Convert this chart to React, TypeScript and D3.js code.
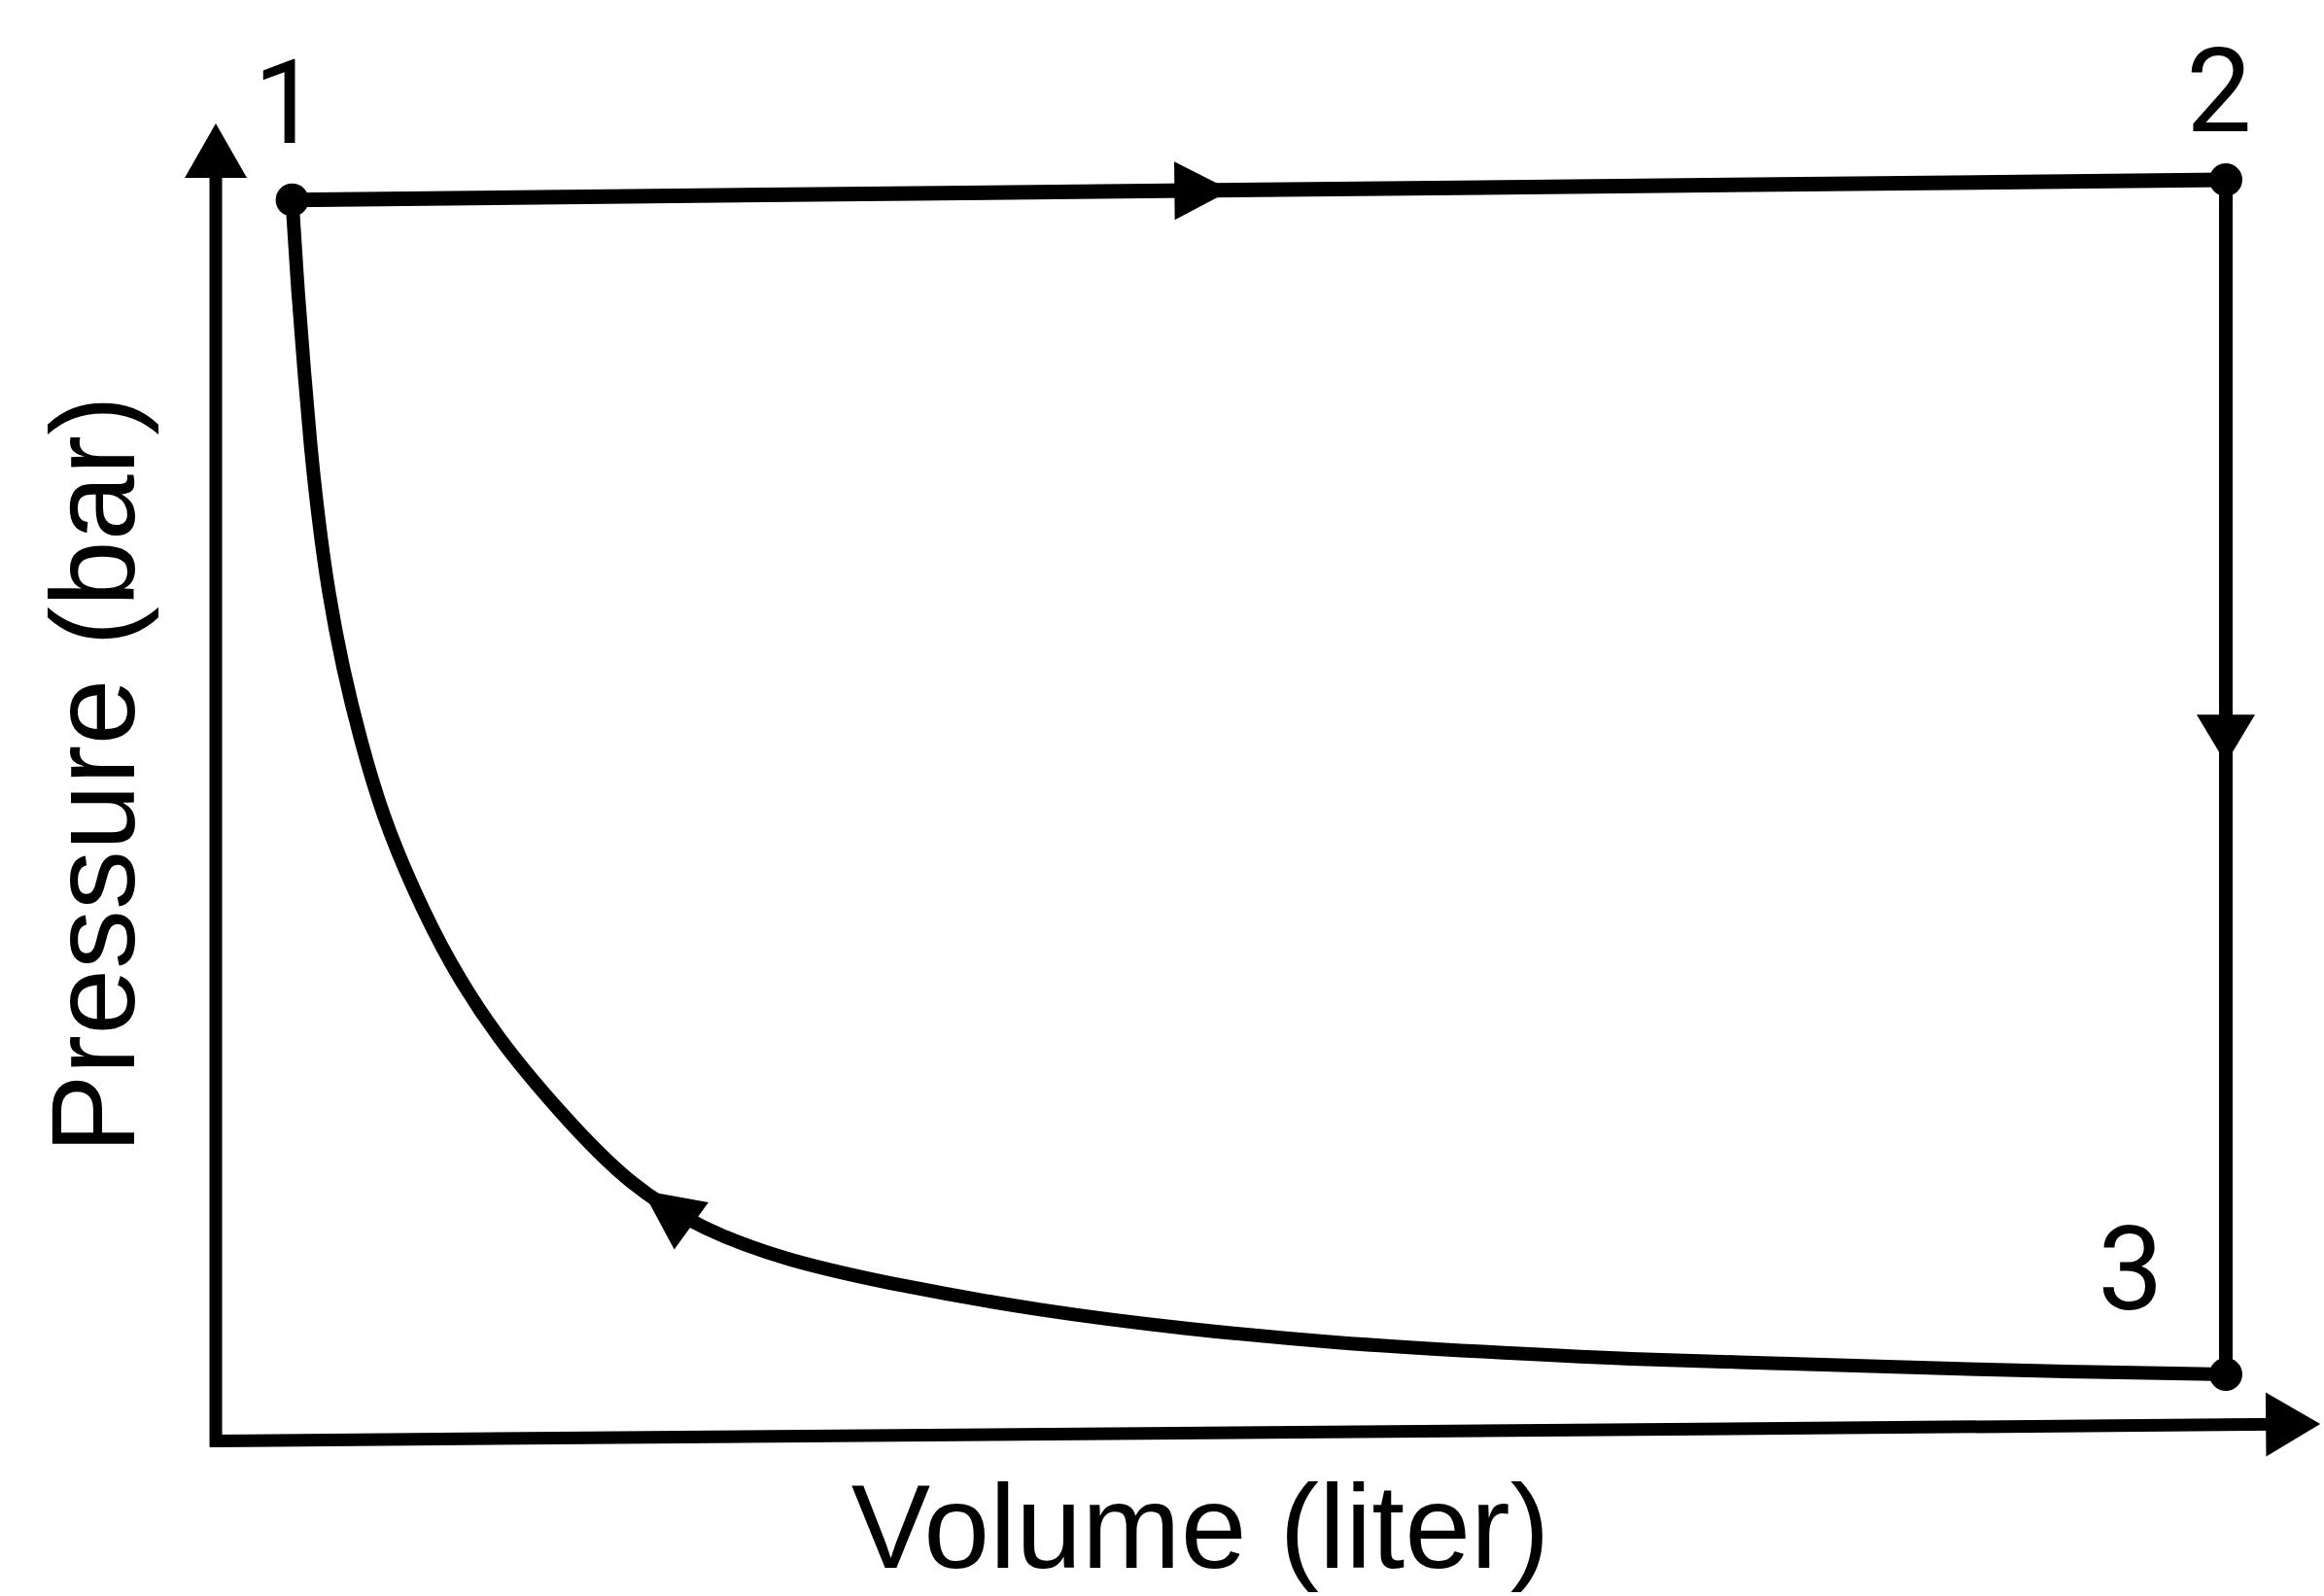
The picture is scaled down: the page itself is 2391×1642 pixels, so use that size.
import React, { useRef, useEffect } from 'react';
import * as d3 from 'd3';

const WIDTH = 2391;
const HEIGHT = 1642;

// cycle corner states (volume, pressure)
const stateLabels = ['1', '2', '3'];
const stateVolume = [0.38, 10.0, 10.0];
const statePressure = [9.84, 10.0, 0.48];

// isothermal branch between state 1 and state 3
const curveVolume = [0.38, 0.41, 0.44, 0.47, 0.51, 0.56, 0.63, 0.72, 0.83, 0.98, 1.16, 1.4, 1.71, 2.06, 2.43, 2.83, 3.42, 4.09, 4.83, 5.57, 6.3, 7.04, 7.78, 8.52, 9.25, 10.0];
const curvePressure = [9.84, 9.07, 8.48, 7.89, 7.3, 6.71, 6.12, 5.53, 4.93, 4.35, 3.76, 3.16, 2.57, 1.98, 1.63, 1.39, 1.18, 0.99, 0.84, 0.73, 0.66, 0.6, 0.57, 0.53, 0.5, 0.48];

// direction arrows: volume of tip on 1->2, pressure of tip on 2->3, volume of tip on 3->1
const arrowOn12 = 5.05;
const arrowOn23 = 5.35;
const arrowOn31 = 2.12;

const xLabel = 'Volume (liter)';
const yLabel = 'Pressure (bar)';

const FONT = '"Liberation Sans", Arial, Helvetica, sans-serif';
const DIGIT_FONT = 'Roboto, "Liberation Sans", Arial, sans-serif';

const App: React.FC = () => {
  const svgRef = useRef<SVGSVGElement>(null);

  useEffect(() => {
    if (!svgRef.current) return;
    const svg = d3.select(svgRef.current);
    svg.selectAll('*').remove();

    const x = d3.scaleLinear().domain([0, 10]).range([222, 2290]);
    const y = d3.scaleLinear().domain([0, 10]).range([1476, 185]);
    const ink = '#000';
    const g = svg.append('g');

    const head = (len: number, hw: number) => `M0,0L${-len},${-hw}L${-len},${hw}Z`;
    const arrow = (px: number, py: number, angle: number, len: number, hw: number) =>
      g.append('path')
        .attr('d', head(len, hw))
        .attr('transform', `translate(${px},${py}) rotate(${angle})`)
        .attr('fill', ink);

    // axes
    const xa0: [number, number] = [x(0), y(-0.05)];
    const xa1: [number, number] = [x(10.47), y(0.085)];
    const xaAng = Math.atan2(xa1[1] - xa0[1], xa1[0] - xa0[0]);
    g.append('line')
      .attr('x1', xa0[0] - 6).attr('y1', xa0[1])
      .attr('x2', xa1[0] - 40 * Math.cos(xaAng)).attr('y2', xa1[1] - 40 * Math.sin(xaAng))
      .attr('stroke', ink).attr('stroke-width', 13);
    arrow(xa1[0], xa1[1], (xaAng * 180) / Math.PI, 56, 33);

    g.append('line')
      .attr('x1', x(0)).attr('y1', y(-0.05) + 6)
      .attr('x2', x(0)).attr('y2', y(10.45) + 40)
      .attr('stroke', ink).attr('stroke-width', 13);
    arrow(x(0), y(10.45), -90, 56, 32);

    const pts = stateVolume.map((v, i) => [x(v), y(statePressure[i])] as [number, number]);

    // 1 -> 2 and 2 -> 3
    g.append('line')
      .attr('x1', pts[0][0]).attr('y1', pts[0][1])
      .attr('x2', pts[1][0]).attr('y2', pts[1][1])
      .attr('stroke', ink).attr('stroke-width', 15);
    g.append('line')
      .attr('x1', pts[1][0]).attr('y1', pts[1][1])
      .attr('x2', pts[2][0]).attr('y2', pts[2][1])
      .attr('stroke', ink).attr('stroke-width', 14);

    // 3 -> 1 curve
    const line = d3.line<number>()
      .x((_, i) => x(curveVolume[i]))
      .y((d) => y(d))
      .curve(d3.curveBasis);
    const curve = g.append('path')
      .attr('d', line(curvePressure) as string)
      .attr('fill', 'none')
      .attr('stroke', ink)
      .attr('stroke-width', 14)
      .attr('stroke-linejoin', 'round');

    // arrows on the cycle
    const a12 = Math.atan2(pts[1][1] - pts[0][1], pts[1][0] - pts[0][0]);
    const t12 = (arrowOn12 - stateVolume[0]) / (stateVolume[1] - stateVolume[0]);
    arrow(
      pts[0][0] + t12 * (pts[1][0] - pts[0][0]),
      pts[0][1] + t12 * (pts[1][1] - pts[0][1]),
      (a12 * 180) / Math.PI, 58, 30
    );
    arrow(x(stateVolume[1]), y(arrowOn23), 90, 50, 30);

    const node = curve.node() as SVGPathElement;
    const total = node.getTotalLength();
    const target = x(arrowOn31);
    let l = 0;
    while (l < total && node.getPointAtLength(l).x < target) l += 1;
    const p = node.getPointAtLength(l);
    const q = node.getPointAtLength(Math.min(total, l + 8));
    const a31 = Math.atan2(p.y - q.y, p.x - q.x);
    arrow(p.x, p.y, (a31 * 180) / Math.PI, 62, 30);

    // state dots
    g.selectAll('circle.state')
      .data(pts)
      .join('circle')
      .attr('class', 'state')
      .attr('cx', (d) => d[0])
      .attr('cy', (d) => d[1])
      .attr('r', 17)
      .attr('fill', ink);

    // state labels
    const labelOffset = [[-6, -59], [-7, -50], [-98, -67]];
    g.selectAll('text.state')
      .data(stateLabels)
      .join('text')
      .attr('class', 'state')
      .attr('x', (_, i) => pts[i][0] + labelOffset[i][0])
      .attr('y', (_, i) => pts[i][1] + labelOffset[i][1])
      .attr('text-anchor', 'middle')
      .attr('font-family', DIGIT_FONT)
      .attr('font-size', 120)
      .attr('fill', ink)
      .text((d) => d);

    // axis titles
    g.append('text')
      .attr('x', 1235)
      .attr('y', 1613)
      .attr('text-anchor', 'middle')
      .attr('font-family', FONT)
      .attr('font-size', 122)
      .attr('fill', ink)
      .text(xLabel);

    g.append('text')
      .attr('transform', `translate(138,797) rotate(-90)`)
      .attr('text-anchor', 'middle')
      .attr('font-family', FONT)
      .attr('font-size', 122)
      .attr('fill', ink)
      .text(yLabel);
  }, []);

  return (
    <svg
      ref={svgRef}
      width={WIDTH}
      height={HEIGHT}
      style={{ position: 'absolute', left: 0, top: 0, background: '#fff' }}
    />
  );
};

export default App;
